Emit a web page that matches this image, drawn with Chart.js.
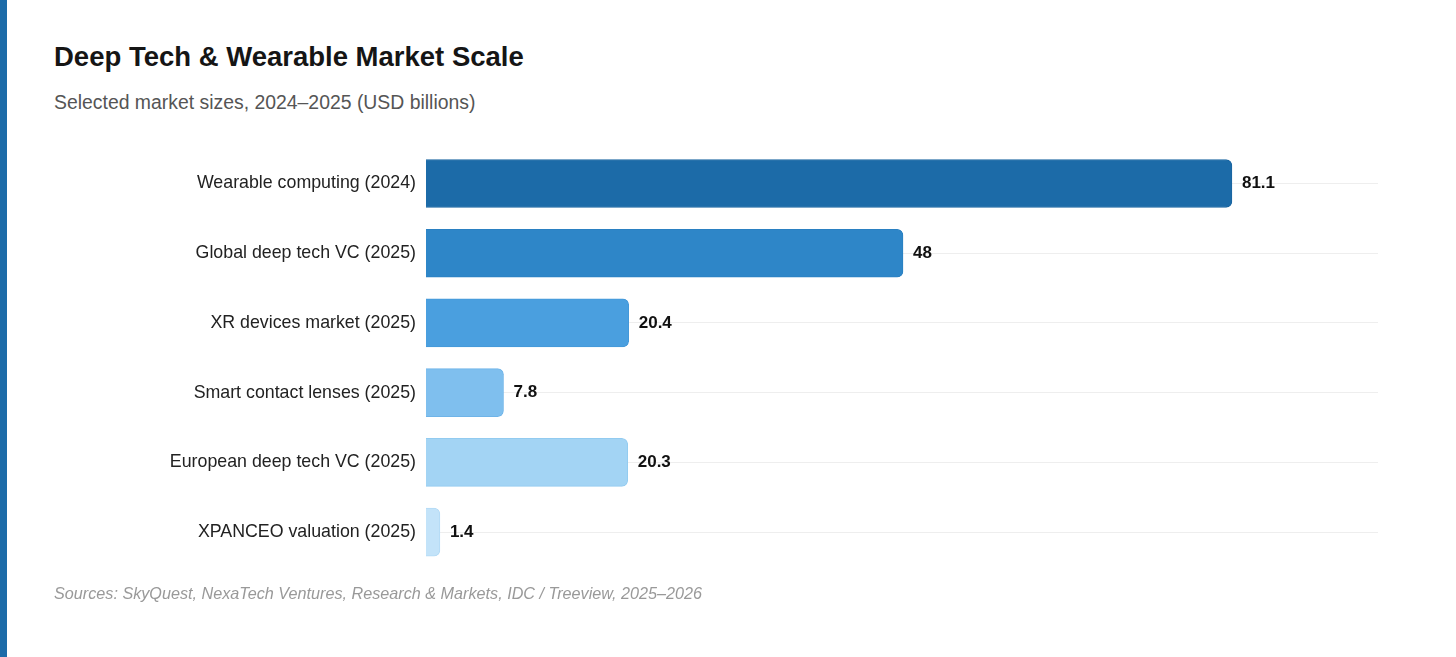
<!DOCTYPE html>
<html>
<head>
<meta charset="utf-8">
<title>Deep Tech & Wearable Market Scale</title>
<script src="https://cdn.jsdelivr.net/npm/chart.js@4"></script>
<style>
    html, body { margin: 0; padding: 0; background: #fff; }
    body {
        width: 1456px;
        height: 657px;
        position: relative;
        overflow: hidden;
        font-family: "Liberation Sans", Arial, Helvetica, sans-serif;
    }
    .side-bar { position: absolute; left: 0; top: 0; width: 7px; height: 657px; background: #1c6ba8; }
    h1 { position: absolute; left: 54px; top: 41px; margin: 0; font-size: 27.5px; font-weight: bold; color: #151515; }
    .subtitle { position: absolute; left: 54px; top: 91px; margin: 0; font-size: 19.4px; color: #555; }
    .source { position: absolute; left: 54px; top: 584px; margin: 0; font-size: 16.2px; font-style: italic; color: #999; }
    .chart-wrap { position: absolute; left: 0; top: 127.5px; width: 1456px; height: 459.6px; }
</style>
</head>
<body>
<div class="side-bar"></div>
<h1>Deep Tech &amp; Wearable Market Scale</h1>
<p class="subtitle">Selected market sizes, 2024–2025 (USD billions)</p>
<div class="chart-wrap"><canvas id="market-chart"></canvas></div>
<p class="source">Sources: SkyQuest, NexaTech Ventures, Research &amp; Markets, IDC / Treeview, 2025–2026</p>

<script>
// Chart data
const categories = [
    'Wearable computing (2024)',
    'Global deep tech VC (2025)',
    'XR devices market (2025)',
    'Smart contact lenses (2025)',
    'European deep tech VC (2025)',
    'XPANCEO valuation (2025)'
];
const marketValues = [81.1, 48, 20.4, 7.8, 20.3, 1.4];
const barColors = ['#1c6ba8', '#2e86c8', '#4a9fdf', '#7fbfee', '#a3d4f4', '#c3e3f9'];
const barBorders = ['#1a65a0', '#2a80c2', '#4498d8', '#6fb4e8', '#92cbf0', '#b3daf5'];

// Draws the value next to each bar end
const valueLabels = {
    id: 'valueLabels',
    afterDatasetsDraw(chart) {
        const ctx = chart.ctx;
        const meta = chart.getDatasetMeta(0);
        ctx.save();
        ctx.font = 'bold 17px "Liberation Sans", Arial, sans-serif';
        ctx.fillStyle = '#111';
        ctx.textAlign = 'left';
        ctx.textBaseline = 'middle';
        meta.data.forEach((bar, i) => {
            ctx.fillText(String(marketValues[i]), bar.x + 10, bar.y);
        });
        ctx.restore();
    }
};

const ctx = document.getElementById('market-chart');

new Chart(ctx, {
    type: 'bar',
    data: {
        labels: categories,
        datasets: [{
            data: marketValues,
            backgroundColor: barColors,
            borderColor: barBorders,
            borderWidth: 1,
            borderRadius: 6,
            borderSkipped: 'start',
            barThickness: 48
        }]
    },
    options: {
        indexAxis: 'y',
        responsive: true,
        maintainAspectRatio: false,
        animation: false,
        layout: {
            padding: { top: 0, right: 78, bottom: 0, left: 0 }
        },
        plugins: {
            legend: { display: false },
            tooltip: { enabled: false }
        },
        scales: {
            x: {
                display: false,
                min: 0,
                max: 95.8
            },
            y: {
                afterFit(scale) {
                    scale.width = 426;
                },
                border: { display: false },
                grid: {
                    offset: false,
                    drawTicks: false,
                    color: '#eeeeee'
                },
                ticks: {
                    padding: 10,
                    color: '#222',
                    font: { size: 17.8, family: '"Liberation Sans", Arial, sans-serif' }
                }
            }
        }
    },
    plugins: [valueLabels]
});
</script>
</body>
</html>
